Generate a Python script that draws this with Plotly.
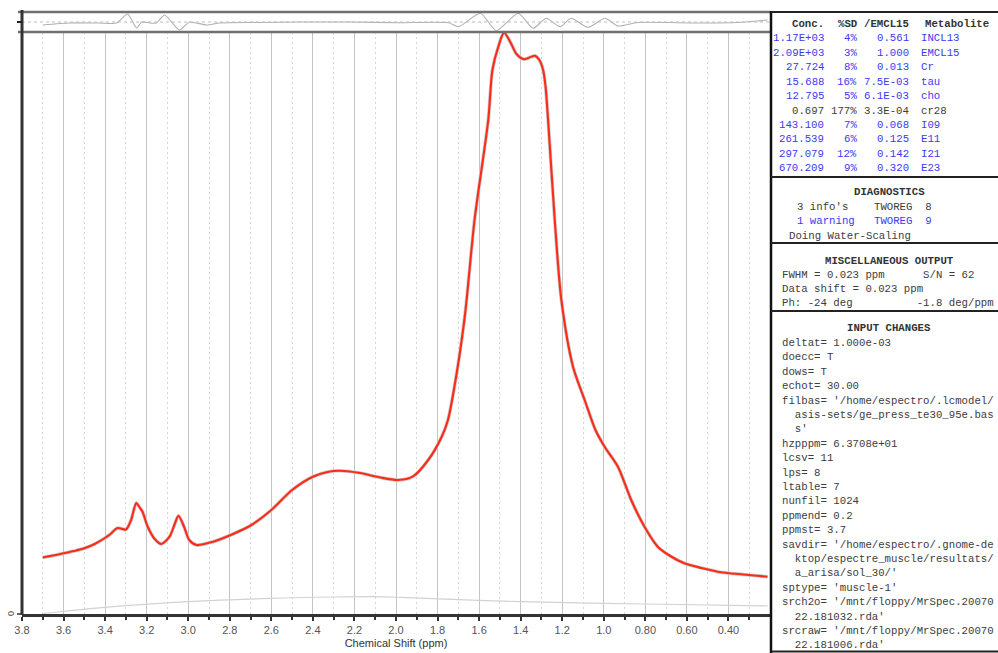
import plotly.graph_objects as go

# ---------------- data ----------------
ppm = [3.70, 3.65, 3.60, 3.55, 3.50, 3.45, 3.43, 3.38, 3.34, 3.30, 3.275, 3.25, 3.235, 3.22,
       3.195, 3.16, 3.13, 3.09, 3.065, 3.047, 3.02, 2.995, 2.96, 2.88, 2.79, 2.70, 2.60, 2.50,
       2.40, 2.33, 2.275, 2.18, 2.08, 1.99, 1.92, 1.845, 1.78, 1.75, 1.707, 1.667, 1.622, 1.556,
       1.536, 1.508, 1.48, 1.45, 1.42, 1.383, 1.332, 1.31, 1.292, 1.28, 1.268, 1.236, 1.204,
       1.148, 1.092, 1.04, 0.996, 0.932, 0.868, 0.804, 0.74, 0.68, 0.612, 0.53, 0.452, 0.33, 0.212]
spectrum = [56.5, 58.5, 60.7, 63, 65.7, 70, 72.3, 79, 86, 84.5, 94, 111, 107, 102.3,
            87.3, 74.7, 70, 77.3, 90, 98.3, 87.3, 74, 69, 72.3, 79.5, 88.5, 104, 124,
            137.3, 142, 143.3, 141.3, 136.7, 134, 137.3, 154, 177.3, 194, 242, 301, 394, 494,
            544, 567, 581.3, 572, 560, 554.7, 558.3, 554, 544, 527, 494, 394, 314,
            247.3, 214, 184, 167.3, 147.3, 114, 87.3, 67.3, 58, 50.7, 46, 42.3, 39.5, 37.3]

base_ppm = [3.70, 3.40, 3.00, 2.60, 2.30, 2.12, 1.98, 1.40, 0.80, 0.21]
baseline = [0.5, 6.7, 12.3, 15.7, 17, 17.3, 16.7, 12.3, 10, 8]

res_ppm = [3.70, 3.57, 3.426, 3.344, 3.292, 3.248, 3.224, 3.186, 3.153, 3.114, 3.042, 2.994,
           2.913, 2.85, 2.66, 2.47, 2.23, 1.987, 1.747, 1.699, 1.594, 1.517, 1.412, 1.34,
           1.277, 1.21, 1.157, 1.076, 0.994, 0.932, 0.836, 0.548, 0.356, 0.26, 0.212]
residual = [-3, -1, -1, -1, 8, -6, 0, -1, -1, 7, -8, 0,
            -3, -1, -0.5, 0, 0, -0.7, -0.7, -4.7, 8.7, -8.7, 8.7, -6.3,
            3.7, -4.7, 3.7, -5.3, 3.7, -4, -0.5, -1, -0.5, 1, 2]

tick_vals = [3.8, 3.6, 3.4, 3.2, 3.0, 2.8, 2.6, 2.4, 2.2, 2.0, 1.8, 1.6, 1.4, 1.2, 1.0, 0.8, 0.6, 0.4]
tick_text = ["3.8", "3.6", "3.4", "3.2", "3.0", "2.8", "2.6", "2.4", "2.2", "2.0", "1.8",
             "1.6", "1.4", "1.2", "1.0", "0.80", "0.60", "0.40"]

conc = ["1.17E+03", "2.09E+03", "27.724", "15.688", "12.795", "0.697", "143.100", "261.539", "297.079", "670.209"]
sd = ["4%", "3%", "8%", "16%", "5%", "177%", "7%", "6%", "12%", "9%"]
ratio = ["0.561", "1.000", "0.013", "7.5E-03", "6.1E-03", "3.3E-04", "0.068", "0.125", "0.142", "0.320"]
metab = ["INCL13", "EMCL15", "Cr", "tau", "cho", "cr28", "I09", "E11", "I21", "E23"]

input_changes = [
    "deltat= 1.000e-03", "doecc= T", "dows= T", "echot= 30.00",
    "filbas= '/home/espectro/.lcmodel/", "  asis-sets/ge_press_te30_95e.bas", "  s'",
    "hzpppm= 6.3708e+01", "lcsv= 11", "lps= 8", "ltable= 7", "nunfil= 1024",
    "ppmend= 0.2", "ppmst= 3.7", "savdir= '/home/espectro/.gnome-de",
    "  ktop/espectre_muscle/resultats/", "  a_arisa/sol_30/'", "sptype= 'muscle-1'",
    "srch2o= '/mnt/floppy/MrSpec.20070", "  22.181032.rda'",
    "srcraw= '/mnt/floppy/MrSpec.20070", "  22.181006.rda'",
]

# ---------------- layout geometry ----------------
W, H = 998, 653
L, R, T, B = 22, 770, 12, 614


def px(x):
    return (x - L) / (R - L)


def py(y):
    return (B - y) / (B - T)


split = py(32)

fig = go.Figure()
fig.add_trace(go.Scatter(x=base_ppm, y=baseline, mode="lines",
                         line=dict(color="#d2d2d2", width=1.2, shape="spline"),
                         hoverinfo="skip", xaxis="x", yaxis="y"))
fig.add_trace(go.Scatter(x=ppm, y=spectrum, mode="lines",
                         line=dict(color="#cccccc", width=3.6, shape="spline", smoothing=0.8),
                         hoverinfo="skip", xaxis="x", yaxis="y"))
fig.add_trace(go.Scatter(x=ppm, y=spectrum, mode="lines",
                         line=dict(color="#ff2a17", width=2.1, shape="spline", smoothing=0.8),
                         hoverinfo="skip", xaxis="x", yaxis="y"))
fig.add_trace(go.Scatter(x=res_ppm, y=residual, mode="lines",
                         line=dict(color="#b0b0b0", width=1.1, shape="spline", smoothing=0.6),
                         hoverinfo="skip", xaxis="x2", yaxis="y2"))

fig.update_layout(
    width=W, height=H,
    margin=dict(l=L, r=W - R, t=T, b=H - B, autoexpand=False),
    paper_bgcolor="white", plot_bgcolor="white",
    showlegend=False,
    xaxis=dict(range=[3.8, 0.2], domain=[0, 1], anchor="y", automargin=False,
               tickmode="array", tickvals=tick_vals, ticktext=tick_text,
               ticks="outside", ticklen=4, tickwidth=1.5, tickcolor="#333",
               ticklabelstandoff=0,
               showline=True, linecolor="#333", linewidth=2.5,
               showgrid=True, gridcolor="#c4c4c4", gridwidth=1,
               zeroline=False,
               minor=dict(tick0=0.1, dtick=0.2, ticks="outside", ticklen=3, tickcolor="#333",
                          showgrid=True, gridcolor="#d6d6d6", griddash="2px,3px", gridwidth=1),
               tickfont=dict(family="Liberation Sans", size=11, color="#555"),
               title=dict(text="Chemical Shift (ppm)", standoff=5,
                          font=dict(family="Liberation Sans", size=11, color="#333"))),
    yaxis=dict(range=[0, 582], domain=[0, split], showticklabels=False, showgrid=False,
               zeroline=False, showline=False, ticks="", automargin=False),
    xaxis2=dict(range=[3.8, 0.2], domain=[0, 1], anchor="y2", matches="x", showticklabels=False,
                showgrid=False, zeroline=False, ticks="", automargin=False),
    yaxis2=dict(range=[-10, 10], domain=[split, 1], showticklabels=False, showgrid=False,
                zeroline=False, ticks="", automargin=False),
)

shapes = []


def hline(y, x0, x1, color, width, dash="solid"):
    shapes.append(dict(type="line", xref="paper", yref="paper", x0=px(x0), x1=px(x1), y0=py(y), y1=py(y),
                       line=dict(color=color, width=width, dash=dash)))


def vline(x, y0, y1, color, width):
    shapes.append(dict(type="line", xref="paper", yref="paper", x0=px(x), x1=px(x), y0=py(y0), y1=py(y1),
                       line=dict(color=color, width=width)))


hline(22, L, R, "#bdbdbd", 1, "dot")
hline(12, L - 4, R, "#707070", 2.5)
hline(32, L - 4, R, "#707070", 2.5)
vline(L, 10, 615, "#333", 3)
hline(614, L - 5, L, "#333", 1.5)
hline(22, L - 5, L, "#222", 2)
vline(771, 11, 653, "#111", 2.5)
for yy in [12, 177, 243, 311, 651.5]:
    hline(yy, 771, 1000, "#222", 2)

fig.update_layout(shapes=shapes)

ann = []
MONO = "Liberation Mono"
FS = 10.7
BLUE = "#3a3af2"
GRAY = "#3c3c3c"


def txt(s, x, y, anchor="left", color=GRAY, bold=False, size=FS, family=MONO, angle=0):
    s = s.replace(" ", "\u00a0")
    if bold:
        s = "<b>" + s + "</b>"
    ann.append(dict(text=s, xref="paper", yref="paper", x=px(x), y=py(y), xanchor=anchor, yanchor="middle",
                    showarrow=False, textangle=angle,
                    font=dict(family=family, size=size, color=color)))


# table header
txt("Conc.", 826, 24, "right", "#333", True)
txt("%SD", 859, 24, "right", "#333", True)
txt("/EMCL15", 911, 24, "right", "#333", True)
txt("Metabolite", 923, 24, "left", "#333", True)
for i in range(len(conc)):
    y = 38.3 + i * 14.45
    c = GRAY if metab[i] == "cr28" else BLUE
    txt(conc[i], 826, y, "right", c)
    txt(sd[i], 859, y, "right", c)
    txt(ratio[i], 911, y, "right", c)
    txt(metab[i], 919, y, "left", c)

# diagnostics
txt("DIAGNOSTICS", 889, 192, "center", "#333", True)
txt("3 info's    TWOREG  8", 795, 207, "left", GRAY)
txt("1 warning   TWOREG  9", 795, 221, "left", BLUE)
txt("Doing Water-Scaling", 787, 236, "left", GRAY)

# misc output
txt("MISCELLANEOUS OUTPUT", 889, 261, "center", "#333", True)
txt("FWHM = 0.023 ppm      S/N = 62", 780, 275, "left", GRAY)
txt("Data shift = 0.023 ppm", 780, 289, "left", GRAY)
txt("Ph: -24 deg          -1.8 deg/ppm", 780, 303, "left", GRAY)

# input changes
txt("INPUT CHANGES", 889, 328, "center", "#333", True)
for i, line in enumerate(input_changes):
    txt(line, 780, 343 + i * 14.4, "left", GRAY)

# y axis zero label
txt("0", 11, 614, "center", "#444", False, 9, "Liberation Sans", -90)

fig.update_layout(annotations=ann)

fig.write_html("out.html")
